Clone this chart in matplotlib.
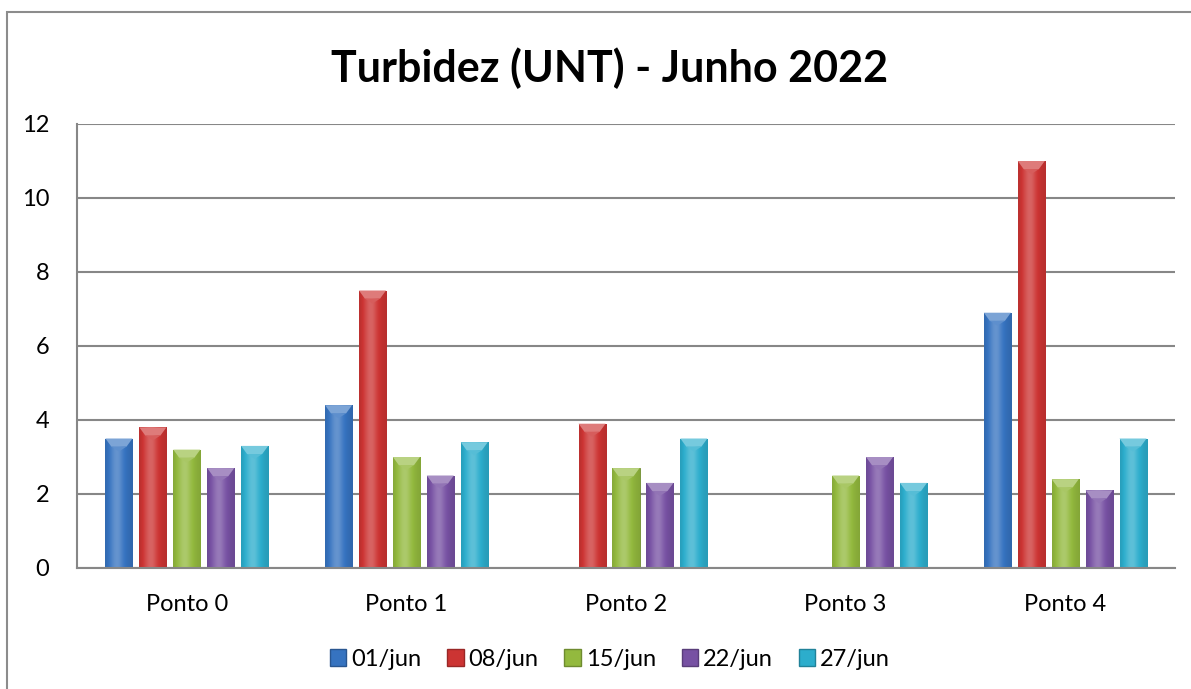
import numpy as np
import matplotlib
matplotlib.use('Agg')
import matplotlib.pyplot as plt
from matplotlib.patches import Rectangle, Polygon
from matplotlib.colors import to_rgb

plt.rcParams['font.family'] = ['Lato', 'DejaVu Sans']

pontos = ['Ponto 0', 'Ponto 1', 'Ponto 2', 'Ponto 3', 'Ponto 4']
datas = ['01/jun', '08/jun', '15/jun', '22/jun', '27/jun']
# None = sem medição
jun01 = [3.5, 4.4, None, None, 6.9]
jun08 = [3.8, 7.5, 3.9, None, 11.0]
jun15 = [3.2, 3.0, 2.7, 2.5, 2.4]
jun22 = [2.7, 2.5, 2.3, 3.0, 2.1]
jun27 = [3.3, 3.4, 3.5, 2.3, 3.5]
series = [jun01, jun08, jun15, jun22, jun27]
cores = ['#3673c0', '#cc3433', '#93b93e', '#7751a3', '#2cadcc']

fig = plt.figure(figsize=(11.91, 6.89), dpi=100)
ax = fig.add_axes([77/1191, 1-568/689, (1175-77)/1191, (568-124)/689])

# moldura externa
fig.patches.append(Rectangle((7/1191, -0.02), 1.0, 1-12/689+0.02, transform=fig.transFigure,
                             fill=False, edgecolor='#8c8c8c', linewidth=1.5, zorder=0))

x = np.arange(len(pontos))
passo = 0.1545
larg = 0.123


def clarear(c, f):
    r, g, b = to_rgb(c)
    return (r + (1-r)*f, g + (1-g)*f, b + (1-b)*f)


def escurecer(c, f):
    r, g, b = to_rgb(c)
    return (r*(1-f), g*(1-f), b*(1-f))


for i, (vals, cor) in enumerate(zip(series, cores)):
    v = np.array([np.nan if a is None else a for a in vals], dtype=float)
    bars = ax.bar(x + (i-2)*passo, v, width=larg, color=cor, label=datas[i], zorder=3,
                  edgecolor=escurecer(cor, 0.25), linewidth=0.6)
    for b in bars:
        h = b.get_height()
        if not np.isfinite(h) or h <= 0:
            continue
        x0, w = b.get_x(), b.get_width()
        # degrade horizontal dentro da barra
        t = np.linspace(0, 1, 40)
        luz = 0.25*np.exp(-((t-0.4)/0.25)**2) - 0.2*np.abs(t-0.5)
        base = np.array(to_rgb(cor))
        img = np.zeros((1, 40, 3))
        for k in range(40):
            if luz[k] >= 0:
                img[0, k] = base + (1-base)*luz[k]
            else:
                img[0, k] = base*(1+luz[k])
        im = ax.imshow(img, extent=(x0, x0+w, 0, h), aspect='auto', zorder=3.5,
                       interpolation='bilinear')
        im.set_clip_path(b)
        # chanfro no topo
        th = min(0.22, h)
        tri = Polygon([(x0, h), (x0+w, h), (x0+w*0.78, h-th), (x0+w*0.22, h-th)],
                      closed=True, facecolor=clarear(cor, 0.35), edgecolor='none', zorder=4)
        ax.add_patch(tri)
        tri2 = Polygon([(x0+w*0.22, h-th), (x0+w*0.78, h-th), (x0+w/2, h-th*1.6)],
                       closed=True, facecolor=clarear(cor, 0.2), edgecolor='none', zorder=4)
        ax.add_patch(tri2)

ax.set_xlim(-0.5, 4.5)
ax.set_ylim(0, 12)
ax.set_yticks(np.arange(0, 13, 2))
ax.set_xticks(x)
ax.set_xticklabels(pontos)
ax.tick_params(axis='both', length=0, labelsize=17, colors='black')
ax.tick_params(axis='x', pad=19)
ax.tick_params(axis='y', pad=20)
ax.grid(axis='y', color='#878787', linewidth=1.5, zorder=1)
ax.set_axisbelow(True)
for s in ['top', 'right']:
    ax.spines[s].set_visible(False)
ax.spines['left'].set_color('#878787')
ax.spines['bottom'].set_color('#878787')
ax.spines['left'].set_linewidth(1.5)
ax.spines['bottom'].set_linewidth(1.5)
ax.spines['bottom'].set_zorder(5)

fig.text(0.512, 1-68/689, 'Turbidez (UNT) - Junho 2022', ha='center', va='center',
         fontsize=31, fontweight='bold')

handles = [Rectangle((0, 0), 1, 1, facecolor=c, edgecolor=escurecer(c, 0.25)) for c in cores]
fig.legend(handles, datas, loc='center', bbox_to_anchor=(0.512, 1-659/689), ncol=5,
           frameon=False, fontsize=17, handlelength=0.7, handleheight=0.7,
           handletextpad=0.2, columnspacing=1.1)

fig.savefig('out.png', dpi=100)
